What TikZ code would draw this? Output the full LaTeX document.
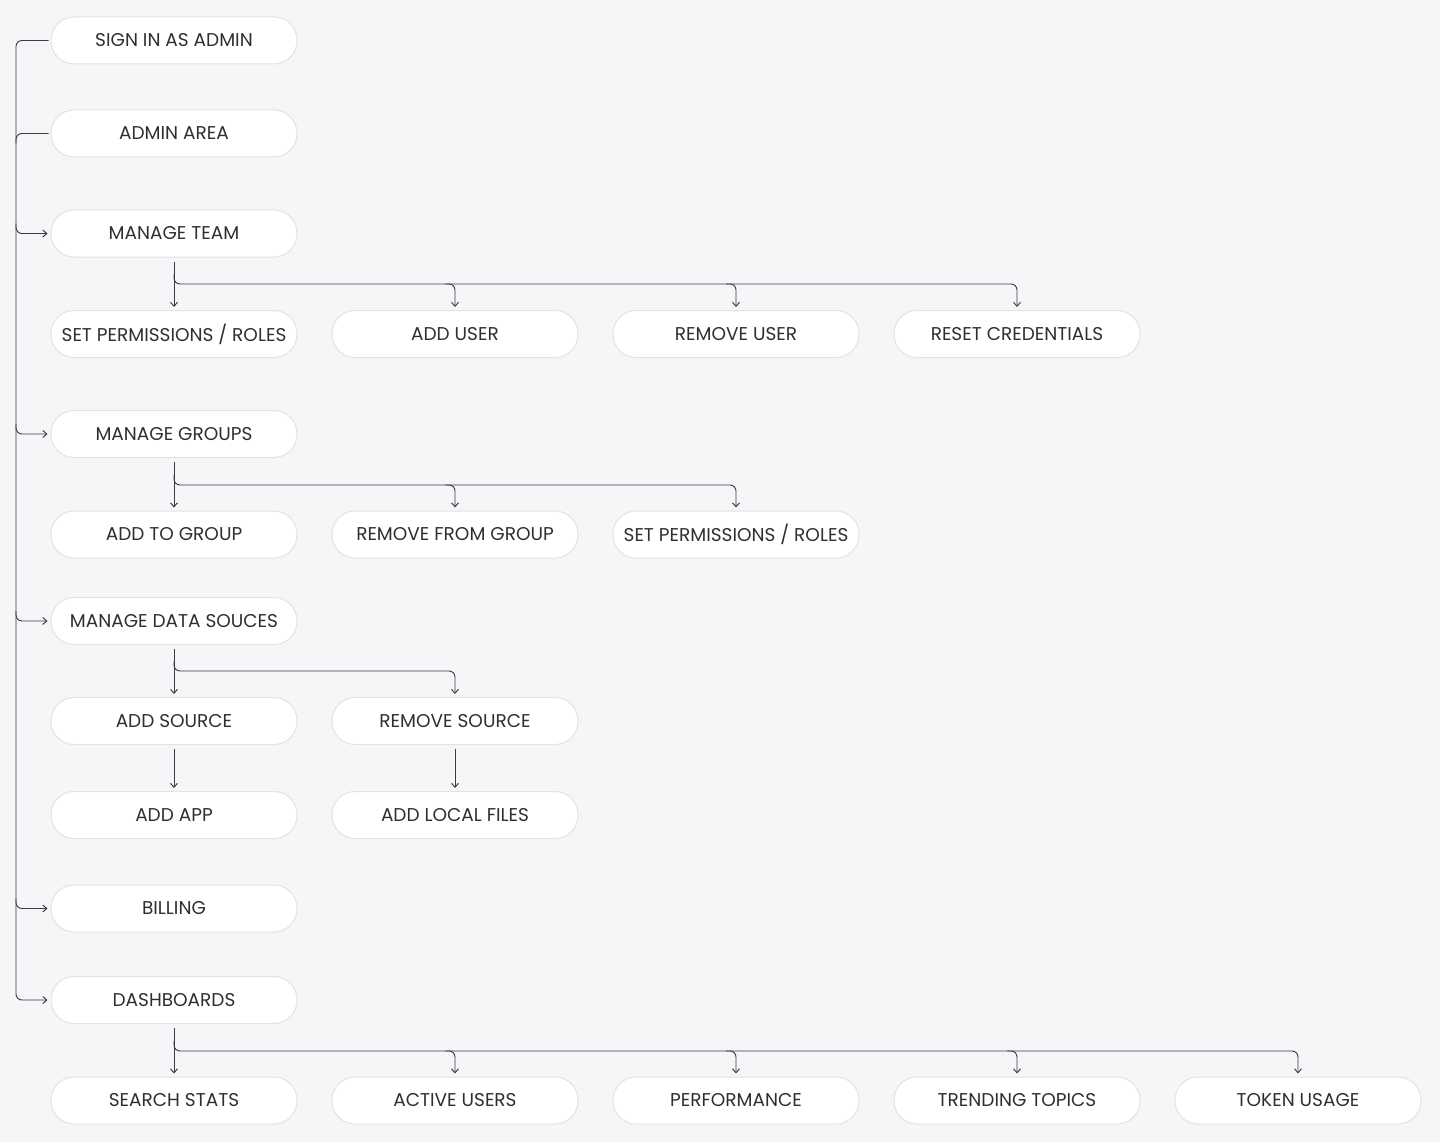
\documentclass[tikz,border=0pt]{standalone}
\usepackage{fontspec}
\setmainfont{Poppins}
\usetikzlibrary{arrows.meta,calc}
\definecolor{bg}{HTML}{F6F5F8}
\definecolor{edge}{HTML}{E3E2E6}
\definecolor{ink}{HTML}{2F2F33}
\definecolor{wire}{HTML}{3C3C40}
\tikzset{
  pill/.style={draw=edge, line width=1pt, fill=white, rounded corners=23pt,
    minimum width=246pt, minimum height=47pt, inner sep=0pt, text=ink,
    font=\fontsize{18.5}{22}\selectfont},
  wireline/.style={draw=wire, line width=0.95pt, rounded corners=6pt},
  arr/.style={wireline, -{Straight Barb[length=4pt,width=7pt,line width=0.95pt]}, shorten >=3pt},
}
\begin{document}
\begin{tikzpicture}[x=1pt,y=-1pt]
\useasboundingbox[fill=bg] (0,0) rectangle (1440,1142);
% main column
\node[pill] (sign) at (174,40.5) {SIGN IN AS ADMIN};
\node[pill] (admin) at (174,133.5) {ADMIN AREA};
\node[pill] (team) at (174,233.5) {MANAGE TEAM};
\node[pill] (groups) at (174,434) {MANAGE GROUPS};
\node[pill] (data) at (174,621) {MANAGE DATA SOUCES};
\node[pill] (billing) at (174,908.5) {BILLING};
\node[pill] (dash) at (174,1000) {DASHBOARDS};
% team row
\node[pill] (perm1) at (174,334) {SET PERMISSIONS / ROLES};
\node[pill] (adduser) at (455,334) {ADD USER};
\node[pill] (remuser) at (736,334) {REMOVE USER};
\node[pill] (reset) at (1017,334) {RESET CREDENTIALS};
% group row
\node[pill] (addgrp) at (174,534.5) {ADD TO GROUP};
\node[pill] (remgrp) at (455,534.5) {REMOVE FROM GROUP};
\node[pill] (perm2) at (736,534.5) {SET PERMISSIONS / ROLES};
% data rows
\node[pill] (addsrc) at (174,721) {ADD SOURCE};
\node[pill] (remsrc) at (455,721) {REMOVE SOURCE};
\node[pill] (addapp) at (174,815) {ADD APP};
\node[pill] (local) at (455,815) {ADD LOCAL FILES};
% dashboard row
\node[pill] (search) at (174,1100.5) {SEARCH STATS};
\node[pill] (active) at (455,1100.5) {ACTIVE USERS};
\node[pill] (perf) at (736,1100.5) {PERFORMANCE};
\node[pill] (trend) at (1017,1100.5) {TRENDING TOPICS};
\node[pill] (token) at (1298,1100.5) {TOKEN USAGE};
% trunk
\coordinate (lt) at (16,0);
\draw[arr] ([xshift=-2pt]sign.west) -| (dash.west -| lt) -- (dash.west);
\draw[wireline] ([xshift=-2pt]admin.west) -| ([yshift=-10pt]admin.west -| lt);
\foreach \n in {team,groups,data,billing}
  \draw[arr] ([yshift=10pt]\n.west -| lt) |- (\n.west);
% buses
\coordinate (tb) at (174,284);
\coordinate (gb) at (174,485);
\coordinate (db) at (174,671);
\coordinate (sb) at (174,1051);
\draw[arr, shorten <=4pt] (team) -- (perm1);
\draw[arr] ([yshift=10pt]tb) |- (tb -| reset) -- (reset.north);
\foreach \t in {adduser,remuser}
  \draw[arr] ([xshift=-10pt]tb -| \t) -- (tb -| \t) -- (\t.north);
\draw[arr, shorten <=4pt] (groups) -- (addgrp);
\draw[arr] ([yshift=10pt]gb) |- (gb -| perm2) -- (perm2.north);
\draw[arr] ([xshift=-10pt]gb -| remgrp) -- (gb -| remgrp) -- (remgrp.north);
\draw[arr, shorten <=4pt] (data) -- (addsrc);
\draw[arr] ([yshift=10pt]db) |- (db -| remsrc) -- (remsrc.north);
\draw[arr, shorten <=4pt] (addsrc) -- (addapp);
\draw[arr, shorten <=4pt] (remsrc) -- (local);
\draw[arr, shorten <=4pt] (dash) -- (search);
\draw[arr] ([yshift=10pt]sb) |- (sb -| token) -- (token.north);
\foreach \t in {active,perf,trend}
  \draw[arr] ([xshift=-10pt]sb -| \t) -- (sb -| \t) -- (\t.north);
\end{tikzpicture}
\end{document}
